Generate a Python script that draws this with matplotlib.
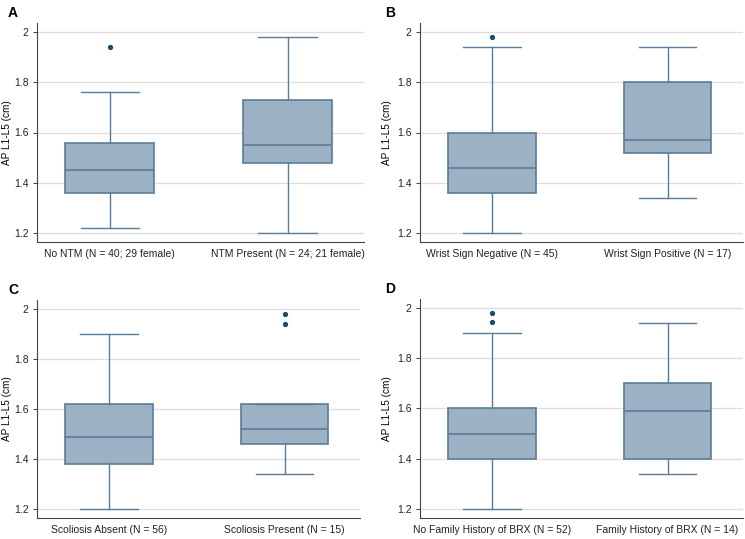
import matplotlib.pyplot as plt

plt.rcParams['font.family'] = ['Liberation Sans', 'DejaVu Sans']

# panel letters, group labels and box statistics
panels = ["A", "B", "C", "D"]
group_labels = [
    ["No NTM (N = 40; 29 female)", "NTM Present (N = 24; 21 female)"],
    ["Wrist Sign Negative (N = 45)", "Wrist Sign Positive (N = 17)"],
    ["Scoliosis Absent (N = 56)", "Scoliosis Present (N = 15)"],
    ["No Family History of BRX (N = 52)", "Family History of BRX (N = 14)"],
]
whis_lo = [[1.22, 1.20], [1.20, 1.34], [1.20, 1.34], [1.20, 1.34]]
q1 = [[1.36, 1.48], [1.36, 1.52], [1.38, 1.46], [1.40, 1.40]]
median = [[1.45, 1.55], [1.46, 1.57], [1.49, 1.52], [1.50, 1.59]]
q3 = [[1.56, 1.73], [1.60, 1.80], [1.62, 1.62], [1.60, 1.70]]
whis_hi = [[1.76, 1.98], [1.94, 1.94], [1.90, 1.62], [1.90, 1.94]]
outliers = [[[1.94], []], [[1.98], []], [[], [1.98, 1.94]], [[1.98, 1.943], []]]
yticks = [1.2, 1.4, 1.6, 1.8, 2.0]
ytick_labels = ["1.2", "1.4", "1.6", "1.8", "2"]

fill = "#9cb1c4"
edge = "#5b7d97"
dot = "#1d4d6d"

fig = plt.figure(figsize=(7.45, 5.39), dpi=100)
W, H = 745, 539
# axes boxes in pixels: left, top, right, bottom
boxes = [(37, 23, 364, 242), (420, 23, 743, 242),
         (37, 300, 360, 518), (420, 299, 743, 518)]
label_x = [12, 392, 12, 392]

for i in range(4):
    l, t, r, b = boxes[i]
    ax = fig.add_axes([l / W, 1 - b / H, (r - l) / W, (b - t) / H])
    stats = []
    for j in range(2):
        stats.append(dict(med=median[i][j], q1=q1[i][j], q3=q3[i][j],
                          whislo=whis_lo[i][j], whishi=whis_hi[i][j],
                          fliers=outliers[i][j], label=group_labels[i][j]))
    ax.bxp(stats, positions=[1, 2], widths=0.5, patch_artist=True,
           boxprops=dict(facecolor=fill, edgecolor=edge, linewidth=1.2),
           medianprops=dict(color=edge, linewidth=1.2),
           whiskerprops=dict(color=edge, linewidth=1.0),
           capprops=dict(color=edge, linewidth=1.0),
           capwidths=0.33,
           flierprops=dict(marker="o", markersize=2.8, markerfacecolor=dot,
                           markeredgecolor=dot))
    ax.set_xlim(0.59, 2.43)
    ax.set_ylim(1.164, 2.036)
    ax.set_yticks(yticks)
    ax.set_yticklabels(ytick_labels)
    ax.yaxis.grid(True, color="#dddddd", linewidth=0.9)
    ax.set_axisbelow(True)
    for s in ["top", "right"]:
        ax.spines[s].set_visible(False)
    for s in ["left", "bottom"]:
        ax.spines[s].set_color("#444444")
        ax.spines[s].set_linewidth(0.8)
    ax.tick_params(axis="y", labelsize=7.5, length=3, width=0.6, colors="#222222", pad=3)
    ax.tick_params(axis="x", labelsize=7.5, length=0, colors="#222222", pad=5)
    ax.set_ylabel("AP L1-L5 (cm)", fontsize=7.2)
    ax.yaxis.set_label_coords((label_x[i] - l) / (r - l), 0.5)
    ax.text(l / W - (29 if i % 2 == 0 else 35) / W, 1 - (t - 10) / H, panels[i],
            transform=fig.transFigure, fontsize=10, fontweight="bold",
            ha="left", va="center")

fig.savefig("out.png", dpi=100)
